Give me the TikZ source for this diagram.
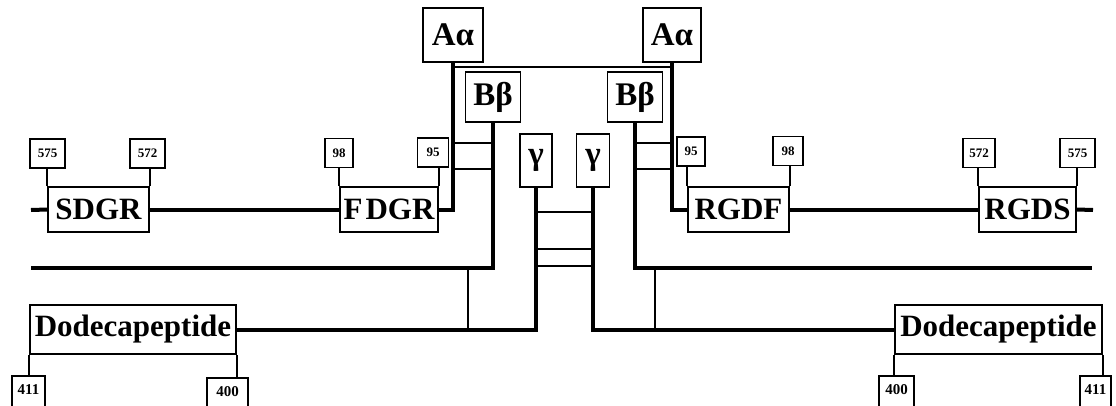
\documentclass[tikz,border=0pt]{standalone}
\usepackage{fontspec}
\setmainfont{Liberation Serif}
\usetikzlibrary{calc}
\begin{document}
\begin{tikzpicture}[x=1pt,y=-1pt,
  box/.style={draw,line width=1.6pt,inner sep=0pt,font=\fontsize{31}{31}\selectfont\bfseries},
  greek/.style={box,font=\fontsize{33}{33}\selectfont\bfseries},
  num/.style={draw,line width=1.5pt,inner sep=0pt,minimum height=29,font=\fontsize{13}{13}\selectfont\bfseries},
  bnum/.style={draw,line width=1.5pt,inner sep=0pt,minimum height=34,font=\fontsize{15}{15}\selectfont\bfseries},
  chain/.style={line width=4pt},
  link/.style={line width=1.6pt}]
\useasboundingbox[fill=white] (0,0) rectangle (1116,405);

% chain heads
\node[greek,minimum width=60,minimum height=54] (AaL) at (453,35) {Aα};
\node[greek,minimum width=58,minimum height=54] (AaR) at (672,35) {Aα};
\node[greek,minimum width=55,minimum height=50] (BbL) at (493,97) {Bβ};
\node[greek,minimum width=55,minimum height=50] (BbR) at (635,97) {Bβ};
\node[greek,minimum width=32,minimum height=53] (gL) at (536,160.5) {γ};
\node[greek,minimum width=33,minimum height=53] (gR) at (593,160.5) {γ};

% sequence boxes
\node[box,minimum width=101,minimum height=45] (SDGR) at (98.5,209.5) {SDGR};
\node[box,minimum width=98,minimum height=45] (FDGR) at (389,209.5) {F\kern3pt DGR};
\node[box,minimum width=101,minimum height=45] (RGDF) at (738.5,209.5) {RGDF};
\node[box,minimum width=97,minimum height=45] (RGDS) at (1027.5,209.5) {RGDS};
\node[box,minimum width=206,minimum height=49] (DodL) at (133,329.5) {Dodecapeptide};
\node[box,minimum width=207,minimum height=49] (DodR) at (998.5,329.5) {Dodecapeptide};

% residue numbers
\node[num,minimum width=35] (n575L) at (47.5,153.5) {575};
\node[num,minimum width=35] (n572L) at (147.5,153.5) {572};
\node[num,minimum width=28] (n98L) at (339,153) {98};
\node[num,minimum width=31] (n95L) at (433,152.5) {95};
\node[num,minimum width=28] (n95R) at (691,151.5) {95};
\node[num,minimum width=30] (n98R) at (788,151) {98};
\node[num,minimum width=32] (n572R) at (979,153) {572};
\node[num,minimum width=35] (n575R) at (1077.5,153) {575};
\node[bnum,minimum width=33] (n411L) at (28.5,393) {\raisebox{6pt}{411}};
\node[bnum,minimum width=41] (n400L) at (227.5,395) {\raisebox{6pt}{400}};
\node[bnum,minimum width=35] (n400R) at (896.5,393) {\raisebox{6pt}{400}};
\node[bnum,minimum width=31] (n411R) at (1095.5,393) {\raisebox{6pt}{411}};

% free ends and levels
\coordinate (L1a) at (31,210);
\coordinate (L1b) at (1093,210);
\coordinate (L2a) at (31,268);
\coordinate (L2b) at (1092,268);
\coordinate (ya) at (0,143);
\coordinate (yb) at (0,169);
\coordinate (yc) at (0,212);
\coordinate (yd) at (0,249);
\coordinate (ye) at (0,266);
\coordinate (vL1) at (468,268);
\coordinate (vL2) at (468,330);
\coordinate (vR1) at (655,268);
\coordinate (vR2) at (655,330);

% thick chains
\draw[chain] (L1a) -- (SDGR.west);
\draw[chain] (SDGR.east) -- (FDGR.west);
\draw[chain] (AaL.south) |- (FDGR.east);
\draw[chain] (AaR.south) |- (RGDF.west);
\draw[chain] (RGDF.east) -- (RGDS.west);
\draw[chain] (RGDS.east) -- (L1b);
\draw[chain] (BbL.south) |- (L2a);
\draw[chain] (BbR.south) |- (L2b);
\draw[chain] (gL.south) |- (DodL.east);
\draw[chain] (gR.south) |- (DodR.west);

% thin links (disulfide bridges)
\draw[link] ($(AaL.south)+(0,4)$) -- ($(AaR.south)+(0,4)$);
\draw[link] (AaL.south |- ya) -- (BbL.south |- ya);
\draw[link] (AaL.south |- yb) -- (BbL.south |- yb);
\draw[link] (AaR.south |- ya) -- (BbR.south |- ya);
\draw[link] (AaR.south |- yb) -- (BbR.south |- yb);
\draw[link] (gL.south |- yc) -- (gR.south |- yc);
\draw[link] (gL.south |- yd) -- (gR.south |- yd);
\draw[link] (gL.south |- ye) -- (gR.south |- ye);
\draw[link] (vL1) -- (vL2);
\draw[link] (vR1) -- (vR2);

% residue number ticks
\draw[link] (SDGR.north west) -- (SDGR.north west |- n575L.south);
\draw[link] (SDGR.north east) -- (SDGR.north east |- n572L.south);
\draw[link] (FDGR.north west) -- (FDGR.north west |- n98L.south);
\draw[link] (FDGR.north east) -- (FDGR.north east |- n95L.south);
\draw[link] (RGDF.north west) -- (RGDF.north west |- n95R.south);
\draw[link] (RGDF.north east) -- (RGDF.north east |- n98R.south);
\draw[link] (RGDS.north west) -- (RGDS.north west |- n572R.south);
\draw[link] (RGDS.north east) -- (RGDS.north east |- n575R.south);
\draw[link] (DodL.south west) -- (DodL.south west |- n411L.north);
\draw[link] (DodL.south east) -- (DodL.south east |- n400L.north);
\draw[link] (DodR.south west) -- (DodR.south west |- n400R.north);
\draw[link] (DodR.south east) -- (DodR.south east |- n411R.north);
\end{tikzpicture}
\end{document}
